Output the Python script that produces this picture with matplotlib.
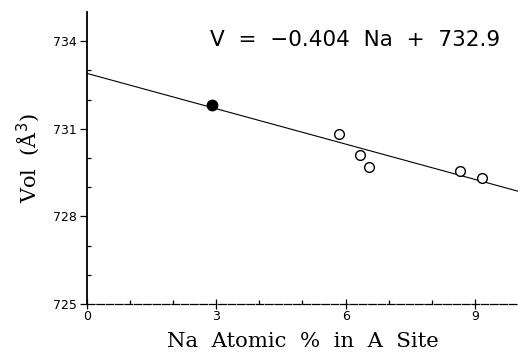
import matplotlib
matplotlib.use("Agg")
import matplotlib.pyplot as plt
import numpy as np

# measured points (Na atomic % in A site, cell volume)
na_filled = [2.91]
vol_filled = [731.81]
na_open = [5.84, 6.34, 6.55, 8.65, 9.15]
vol_open = [730.82, 730.10, 729.69, 729.55, 729.31]

slope = -0.404
intercept = 732.9

fig = plt.figure(figsize=(5.2, 3.55), dpi=100)
ax = fig.add_axes([0.1667, 0.1437, 0.83, 0.8225])

xs = np.array([0, 10])
ax.plot(xs, slope * xs + intercept, color="black", lw=0.8)
ax.plot(na_filled, vol_filled, "o", color="black", ms=7.5)
ax.plot(na_open, vol_open, "o", mfc="white", mec="black", mew=1.0, ms=7)

ax.set_xlim(0, 10)
ax.set_ylim(725, 735)
ax.set_xticks([0, 3, 6, 9])
ax.set_xticks([1, 2, 4, 5, 7, 8], minor=True)
ax.set_yticks([725, 728, 731, 734])
ax.set_yticks([726, 727, 729, 730, 732, 733], minor=True)

ax.spines["top"].set_visible(False)
ax.spines["right"].set_visible(False)
ax.spines["left"].set_linewidth(1.3)
ax.spines["bottom"].set_linewidth(0.9)
ax.spines["bottom"].set_linestyle((0, (6, 1.5)))

ax.tick_params(axis="x", which="major", direction="inout", length=7, width=0.9,
               labelsize=9, pad=1)
ax.tick_params(axis="x", which="minor", direction="in", length=3, width=0.9)
ax.tick_params(axis="y", which="major", direction="out", length=5, width=0.9,
               labelsize=9, pad=2)
ax.tick_params(axis="y", which="minor", direction="in", length=3, width=0.9)

ax.text(9.59, 734.05, "V  =  \u22120.404  Na  +  732.9", fontsize=15.5,
        family="DejaVu Sans", ha="right", va="center")

ax.set_xlabel("Na  Atomic  %  in  A  Site", family="DejaVu Serif",
              fontsize=15.3, labelpad=6)
ax.set_ylabel("Vol  (\u00c5$^3$)", family="DejaVu Serif", fontsize=15,
              labelpad=8)

fig.savefig("out.png", dpi=100)
